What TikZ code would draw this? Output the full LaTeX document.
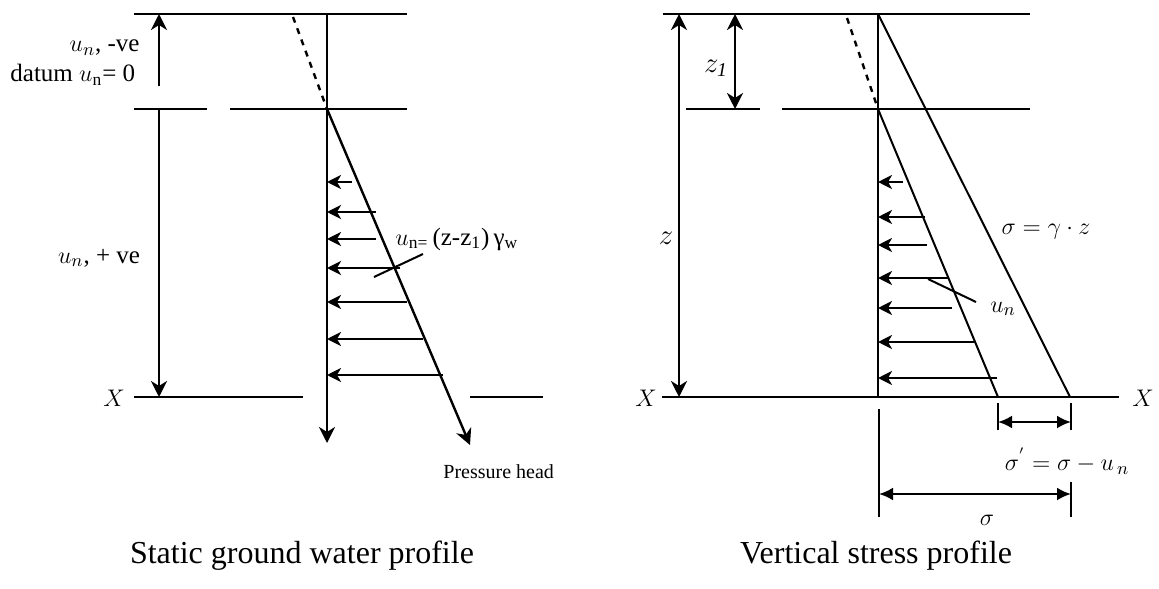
\documentclass[tikz,border=0pt]{standalone}
\usepackage{fontspec}
\setmainfont{Liberation Serif}
\usetikzlibrary{arrows.meta,positioning,calc}

\begin{document}
\begin{tikzpicture}[x=0.5pt,y=-0.5pt,
        ground/.style={line width=1.4pt},
        profile/.style={line width=1pt},
        headarrow/.style={line width=1.2pt, -{Stealth[length=7pt,width=7pt,inset=2pt]}},
        levelarrow/.style={line width=1.4pt, -{Stealth[length=8pt,width=8pt,inset=2.5pt]}},
        dimarrow/.style={line width=1.2pt, {Latex[length=7pt,width=6.5pt]}-{Latex[length=7pt,width=6.5pt]}},
        lbl/.style={font=\fontsize{12.5}{15}\selectfont, inner sep=0pt},
        small/.style={font=\fontsize{10}{12}\selectfont, inner sep=0pt},
        caption/.style={font=\fontsize{16}{19}\selectfont, inner sep=0pt}
    ]
        \useasboundingbox (0,0) rectangle (1159,588);

        % Static ground water profile (left)
        \coordinate (wtop) at (327,14);
        \coordinate (wwt) at (327,109);
        \coordinate (wbot) at (327,443);
        \coordinate (phead) at (470,445);
        \coordinate (datum) at (159,14);

        \draw [ground] (134,14) -- (407,14);
        \draw [ground] (134,109) -- (207,109);
        \draw [ground] (230,109) -- (407,109);
        \draw [ground] (134,397) -- (303,397);
        \draw [ground] (470,397) -- (543,397);

        \draw [levelarrow] (159,86) -- (datum);
        \draw [levelarrow] (159,109) -- (159,397);
        \draw [levelarrow] (wtop) -- (wbot);
        \draw [profile, dashed, line width=1.2pt] (293,17) -- (wwt);
        \draw [profile, -{Stealth[length=8pt,width=8pt,inset=2.5pt]}, line width=1.2pt] (wwt) -- (phead);

        \foreach \y/\x in {182/352, 212/376, 239/376, 268/400, 302/407, 339/423, 375/443}
            \draw [headarrow] (\x,\y) -- (wtop |- 0,\y);

        \draw [profile] (374,277) -- (423,254);

        \node (neg) [lbl, anchor=base east] at (140,52) {$u_n$, -ve};
        \node (dat) [lbl, anchor=base west] at (10,82) {datum $u_{\mathrm{n}}$= 0};
        \node (pos) [lbl] at (99,258) {$u_n$, + ve};
        \node (xl) [lbl] at (114,398) {$X$};
        \node (uw) [lbl, anchor=west] at (395,239) {$u$\textsubscript{n=}\,(z-z\textsubscript{1})\,γ\textsubscript{w}};
        \node (ph) [small, anchor=base west] at (443,478) {Pressure head};
        \node (cap1) [caption] at (302,556) {Static ground water profile};

        % Vertical stress profile (right)
        \coordinate (stop) at (878,14);
        \coordinate (swt) at (878,109);
        \coordinate (sx) at (878,397);
        \coordinate (ux) at (998,397);
        \coordinate (gx) at (1070,397);

        \draw [ground] (663,14) -- (1030,14);
        \draw [ground] (686,109) -- (760,109);
        \draw [ground] (782,109) -- (1030,109);
        \draw [ground] (662,397) -- (1119,397);
        \draw [ground] (stop) -- (sx);
        \draw [profile, dashed, line width=1.2pt] (847,18) -- (swt);
        \draw [profile] (stop) -- (gx);
        \draw [profile] (swt) -- (ux);

        \draw [levelarrow, {Stealth[length=8pt,width=8pt,inset=2.5pt]}-{Stealth[length=8pt,width=8pt,inset=2.5pt]}] (679,14) -- (679,397);
        \draw [levelarrow, {Stealth[length=8pt,width=8pt,inset=2.5pt]}-{Stealth[length=8pt,width=8pt,inset=2.5pt]}] (735,14) -- (735,109);

        \foreach \y/\x in {182/903, 217/925, 245/927, 278/949, 308/952, 342/974, 378/997}
            \draw [headarrow] (\x,\y) -- (stop |- 0,\y);

        \draw [profile] (928,279) -- (976,302);

        % dimension lines
        \draw [ground] (998,403) -- (998,430);
        \draw [ground] (1071,403) -- (1071,430);
        \draw [dimarrow] (998,422) -- (1071,422);
        \draw [ground] (879,409) -- (879,517);
        \draw [ground] (1071,482) -- (1071,517);
        \draw [dimarrow] (879,494) -- (1071,494);

        \node (zl) [lbl, font=\fontsize{14}{16}\selectfont] at (666,238) {$z$};
        \node (z1) [lbl, font=\fontsize{14}{16}\selectfont] at (716,68) {$z_{\mathit{1}}$};
        \node (xl2) [lbl] at (646,398) {$X$};
        \node (xr) [lbl] at (1143,398) {$X$};
        \node (sg) [lbl] at (1046,231) {$\sigma = \gamma \cdot z$};
        \node (un) [lbl] at (1003,309) {$u_n$};
        \node (se) [lbl] at (1067,461) {$\sigma^{'} = \sigma - u_{\,n}$};
        \node (st) [lbl] at (987,520) {$\sigma$};
        \node (cap2) [caption] at (876,556) {Vertical stress profile};

    \end{tikzpicture}
\end{document}
